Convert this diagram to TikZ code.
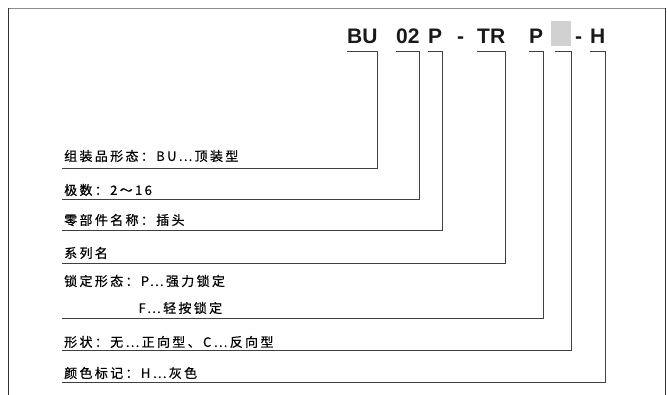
\documentclass[tikz,border=0pt]{standalone}
\usepackage{fontspec}
\newfontfamily\cjk{Noto Sans CJK SC}[LetterSpace=18, FakeBold=0.6]
\newfontfamily\codefont{Liberation Sans}
\usetikzlibrary{positioning}
\tikzset{
  codetext/.style={font=\codefont\bfseries\fontsize{21}{21}\selectfont, text=black!90,
    inner sep=0pt, anchor=base west},
  codegap/.style={fill=black!18, minimum width=20pt, minimum height=25pt, inner sep=0pt},
  desctext/.style={font=\cjk\fontsize{13}{27}\selectfont, text=black,
    inner sep=0pt, anchor=west, align=left},
  bracket/.style={draw=black!75, line width=0.9pt},
}

\begin{document}
\begin{tikzpicture}[x=1pt, y=-1pt]
  \useasboundingbox (0,0) rectangle (667,394);
  % 外框
  \draw[black!45, line width=0.9pt] (8,8) -- (665,8);
  \draw[black!80, line width=0.9pt] (8,8) -- (8,400);
  \draw[black!80, line width=0.9pt] (665,8) -- (665,400);
  % 型号
  \node[codetext] (bu) at (347,43) {BU};
  \node[codetext] (num) at (396,43) {02};
  \node[codetext] (part) at (428,43) {P};
  \node[codetext] (dash1) at (457,43) {-};
  \node[codetext] (tr) at (477,43) {TR};
  \node[codetext] (lock) at (529,43) {P};
  \node[codegap] (gap) at (561,33.5) {};
  \node[codetext] (dash2) at (575,43) {-};
  \node[codetext] (h) at (590,43) {H};
  % 说明
  \coordinate (u1) at (62,168);
  \coordinate (u2) at (62,199);
  \coordinate (u3) at (62,230);
  \coordinate (u4) at (62,263);
  \coordinate (u5) at (62,318);
  \coordinate (u6) at (62,350);
  \coordinate (u7) at (62,382);
  \node[desctext] (d1) at (64,156) {组装品形态：BU⋯顶装型};
  \node[desctext] (d2) at (64,190) {极数：2～16};
  \node[desctext] (d3) at (64,220) {零部件名称：插头};
  \node[desctext] (d4) at (64,253) {系列名};
  \node[desctext] (d5) at (64,294.5) {锁定形态：P⋯强力锁定\\\phantom{锁定形态：}F⋯轻按锁定};
  \node[desctext] (d6) at (64,342) {形状：无⋯正向型、C⋯反向型};
  \node[desctext] (d7) at (64,373) {颜色标记：H⋯灰色};
  % 引线
  \draw[bracket] ([yshift=-8pt]bu.base west) -- ([yshift=-8pt]bu.base east) |- (u1);
  \draw[bracket] ([yshift=-8pt]num.base west) -- ([yshift=-8pt]num.base east) |- (u2);
  \draw[bracket] ([yshift=-8pt]part.base west) -- ([yshift=-8pt]part.base east) |- (u3);
  \draw[bracket] ([yshift=-8pt]tr.base west) -- ([yshift=-8pt]tr.base east) |- (u4);
  \draw[bracket] ([yshift=-8pt]lock.base west) -- ([yshift=-8pt]lock.base east) |- (u5);
  \draw[bracket] ([xshift=4pt,yshift=-5pt]gap.south west) -- ([yshift=-5pt]gap.south east) |- (u6);
  \draw[bracket] ([yshift=-8pt]h.base west) -- ([yshift=-8pt]h.base east) |- (u7);
\end{tikzpicture}
\end{document}
